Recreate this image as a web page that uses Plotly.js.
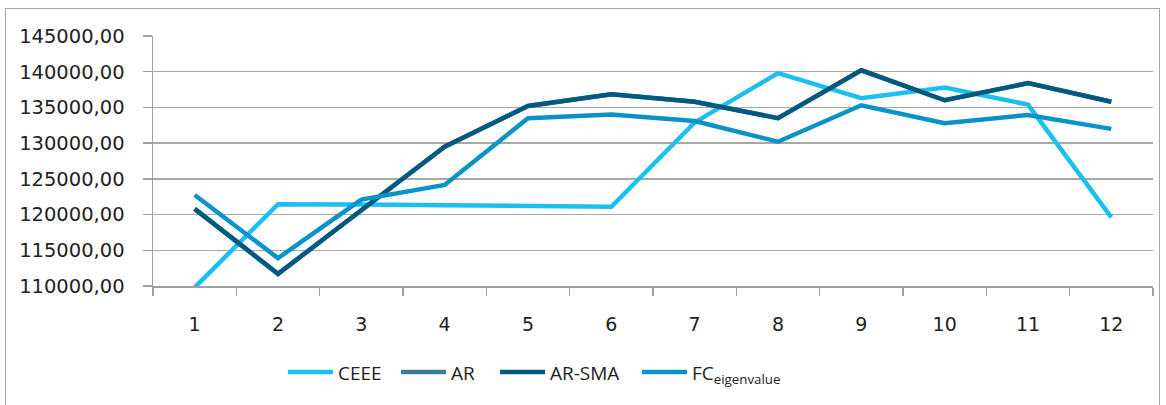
<!DOCTYPE html>
<html>
<head>
<meta charset="utf-8">
<script src="https://cdn.plot.ly/plotly-3.0.1.min.js"></script>
<style>
html,body{margin:0;padding:0;background:#fff;overflow:hidden;}
#frame{position:absolute;left:5px;top:8px;width:1155px;height:420px;border:1.5px solid #a6a6a6;box-sizing:border-box;pointer-events:none;z-index:5;}
#chart{position:absolute;left:0;top:0;width:1166px;height:405px;}
</style>
</head>
<body>
<div id="chart"></div>
<div id="frame"></div>
<script>
const categories = ["1","2","3","4","5","6","7","8","9","10","11","12"];
const ceee   = [109800,121450,121400,121300,121200,121100,132900,139800,136300,137800,135400,119600];
const ar     = [120800,111700,120600,129500,135200,136850,135800,133500,140200,136000,138400,135800];
const arSma  = [120800,111700,120600,129500,135200,136850,135800,133500,140200,136000,138400,135800];
const fcEig  = [122750,113900,122100,124150,133500,134000,133100,130200,135300,132800,133950,132000];
const seriesNames = ["CEEE","AR","AR-SMA","FC<sub>eigenvalue</sub>"];
const colors = ["#1cc0f0","#3c7b9a","#005a80","#0a93c8"];

const legendIds = ["legend","legend2","legend3","legend4"];
const legendPx = [290, 403, 502, 644];

const allSeries = [ceee, ar, arSma, fcEig];
const traces = allSeries.map((vals, i) => ({
  x: categories,
  y: vals,
  type: "scatter",
  mode: "lines",
  name: seriesNames[i],
  legend: legendIds[i],
  line: {color: colors[i], width: 4.5}
}));

const layout = {
  width: 1166,
  height: 405,
  margin: {l: 153, r: 13, t: 36, b: 119},
  paper_bgcolor: "#fff",
  plot_bgcolor: "#fff",
  showlegend: true,
  xaxis: {
    type: "category",
    range: [-0.5, 11.5],
    showgrid: false,
    showline: true,
    linecolor: "#a0a0a0",
    linewidth: 1.5,
    ticks: "outside",
    tickson: "boundaries",
    ticklen: 8,
    tickcolor: "#a0a0a0",
    tickwidth: 1.5,
    ticklabelstandoff: 21,
    tickfont: {family: "DejaVu Sans, sans-serif", size: 19, color: "#222"},
    fixedrange: true
  },
  yaxis: {
    range: [110000, 145000],
    tickvals: [110000,115000,120000,125000,130000,135000,140000,145000],
    ticktext: ["110000,00","115000,00","120000,00","125000,00","130000,00","135000,00","140000,00","145000,00"],
    showgrid: true,
    gridcolor: "#a8a8a8",
    gridwidth: 1.5,
    zeroline: false,
    showline: true,
    linecolor: "#a0a0a0",
    linewidth: 1.5,
    ticks: "outside",
    ticklen: 9,
    tickcolor: "#a0a0a0",
    tickwidth: 1.5,
    ticklabelstandoff: 14,
    tickfont: {family: "DejaVu Sans, sans-serif", size: 19.5, color: "#222"},
    fixedrange: true
  }
};

legendIds.forEach((id, i) => {
  layout[id] = {
    orientation: "h",
    x: (legendPx[i] - 153 - 7) / 1000, xanchor: "left",
    y: -0.345, yanchor: "middle",
    itemwidth: 45,
    font: {family: "Open Sans, sans-serif", size: 19, color: "#222"},
    bgcolor: "rgba(0,0,0,0)"
  };
});

Plotly.newPlot("chart", traces, layout, {displayModeBar: false, staticPlot: true});
</script>
</body>
</html>
